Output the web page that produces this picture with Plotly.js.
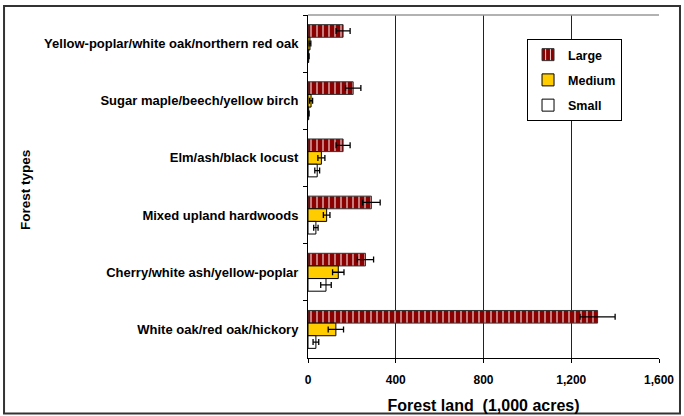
<!DOCTYPE html>
<html>
<head>
<meta charset="utf-8">
<script src="https://cdn.plot.ly/plotly-3.0.1.min.js"></script>
<style>html,body{margin:0;padding:0;background:#fff;}#chart{width:684px;height:416px;}</style>
</head>
<body>
<div id="chart"></div>
<script>
// Categories listed top to bottom
const categories = [
  "Yellow-poplar/white oak/northern red oak",
  "Sugar maple/beech/yellow birch",
  "Elm/ash/black locust",
  "Mixed upland hardwoods",
  "Cherry/white ash/yellow-poplar",
  "White oak/red oak/hickory"
];
const largeValues  = [160, 206, 160, 289, 262, 1320];
const largeErrors  = [32, 35, 32, 40, 37, 80];
const mediumValues = [9, 14, 61, 85, 138, 127];
const mediumErrors = [4, 7, 16, 15, 26, 35];
const smallValues  = [3, 3, 42, 36, 82, 36];
const smallErrors  = [2, 2, 11, 10, 24, 13];
const xTickValues = [0, 400, 800, 1200, 1600];
const xTickLabels = ["0", "400", "800", "1,200", "1,600"];

const errStyle = (arr) => ({type: 'data', array: arr, visible: true, color: '#000', thickness: 1.3, width: 3});

const traces = [
  {
    type: 'bar', orientation: 'h', name: 'Large', legendgroup: 'L', legendrank: 1,
    y: categories, x: largeValues, error_x: errStyle(largeErrors),
    marker: {color: '#8B0000', line: {color: '#333', width: 1},
      pattern: {shape: '|', fgcolor: '#f0d0d0', bgcolor: '#8B0000', size: 6, solidity: 0.2}}
  },
  {
    type: 'bar', orientation: 'h', name: 'Medium', legendgroup: 'M', legendrank: 2,
    y: categories, x: mediumValues, error_x: errStyle(mediumErrors),
    marker: {color: '#FFCC00', line: {color: '#000', width: 1}}
  },
  {
    type: 'bar', orientation: 'h', name: 'Small', legendgroup: 'S', legendrank: 3,
    y: categories, x: smallValues, error_x: errStyle(smallErrors),
    marker: {color: '#FFFFFF', line: {color: '#000', width: 1}}
  }
];

const boldFont = (size) => ({family: 'Arial, "Liberation Sans", sans-serif', size: size, color: '#000', weight: 'bold'});

const layout = {
  width: 684, height: 416,
  margin: {l: 308, r: 25, t: 15, b: 58},
  paper_bgcolor: '#fff', plot_bgcolor: '#fff',
  barmode: 'group', bargap: 0.337, bargroupgap: 0,
  showlegend: true,
  legend: {
    x: 0.624, y: 0.93, xanchor: 'left', yanchor: 'top',
    bgcolor: '#fff', bordercolor: '#000', borderwidth: 1,
    font: boldFont(12.5), tracegroupgap: 6, itemwidth: 30, traceorder: 'grouped'
  },
  xaxis: {
    range: [0, 1600], tickvals: xTickValues, ticktext: xTickLabels,
    showgrid: true, gridcolor: '#222', gridwidth: 1, zeroline: false,
    showline: true, linecolor: '#000', linewidth: 1,
    ticks: 'outside', ticklen: 4, tickcolor: '#000',
    tickfont: boldFont(12), ticklabelstandoff: 7,
    title: {text: 'Forest land\u00A0\u00A0(1,000 acres)', font: boldFont(16), standoff: 13},
    automargin: false, fixedrange: true
  },
  yaxis: {
    type: 'category', autorange: 'reversed',
    showgrid: false, zeroline: false,
    showline: true, linecolor: '#000', linewidth: 1,
    ticks: 'outside', ticklen: 4, tickcolor: '#000', tickson: 'boundaries',
    tickfont: boldFont(13), ticklabelstandoff: 6,
    automargin: false, fixedrange: true
  },
  annotations: [
    {text: 'Forest types', xref: 'paper', yref: 'paper', x: -0.803, y: 0.49,
     xanchor: 'center', yanchor: 'middle', textangle: -90, showarrow: false,
     font: boldFont(13.5)}
  ],
  shapes: [
    {type: 'line', xref: 'paper', yref: 'paper', x0: 0, x1: 1, y0: 1, y1: 1,
     line: {color: '#999', width: 1.5}},
    {type: 'rect', xref: 'paper', yref: 'paper', x0: -0.866, x1: 1.0598, y0: -0.162, y1: 1.026,
     line: {color: '#333', width: 2}, fillcolor: 'rgba(0,0,0,0)', layer: 'below'}
  ]
};

Plotly.newPlot('chart', traces, layout, {displayModeBar: false, staticPlot: true});
</script>
</body>
</html>
